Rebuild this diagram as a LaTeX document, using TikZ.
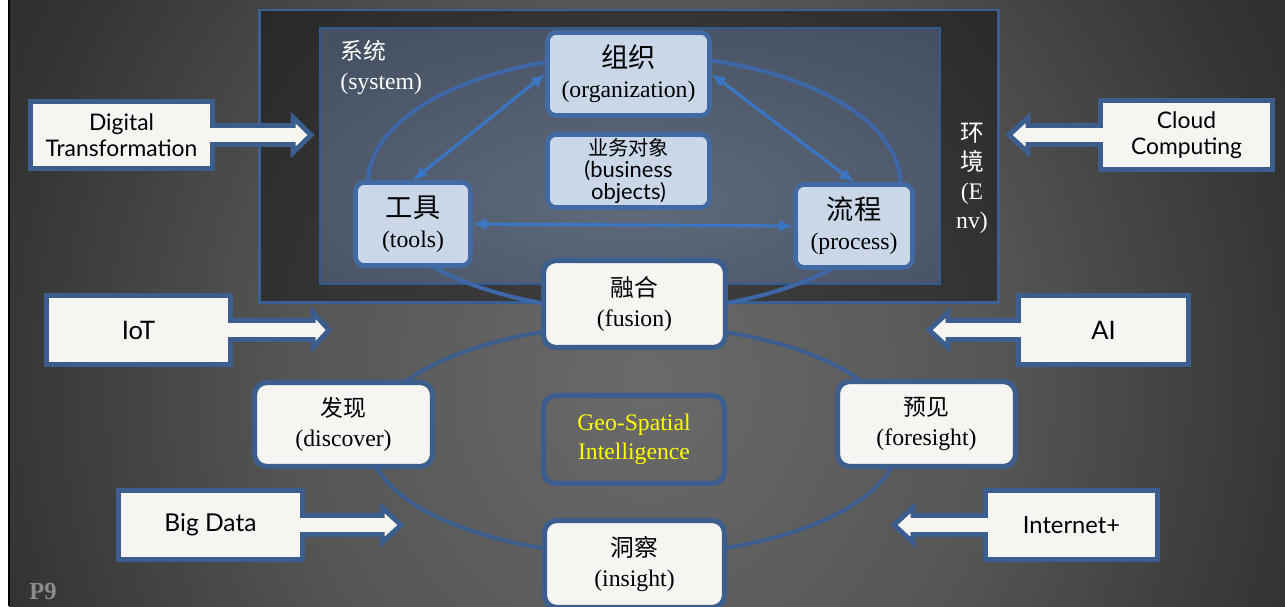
\documentclass[tikz,border=0pt]{standalone}
\usepackage{fontspec}
\setmainfont{Liberation Serif}
\setsansfont{Lato}
\newfontfamily\cjk{Noto Sans CJK SC}
\usetikzlibrary{calc,arrows.meta}
\newlength\pxu \setlength\pxu{0.02cm}
\definecolor{bgA}{HTML}{6A6A6A}
\definecolor{bgB}{HTML}{555555}
\definecolor{bgC}{HTML}{333333}
\definecolor{bgD}{HTML}{212121}
\definecolor{bgE}{HTML}{1B1B1B}
\definecolor{sysA}{HTML}{5F6B7B}
\definecolor{sysB}{HTML}{465264}
\definecolor{sysC}{HTML}{3D4859}
\definecolor{bfr}{HTML}{3B5E8E}
\definecolor{envfr}{HTML}{3A5F93}
\definecolor{sysfr}{HTML}{2F5A92}
\definecolor{lbfill}{HTML}{C9D7E8}
\definecolor{bcl}{HTML}{4169A3}
\definecolor{ellA}{HTML}{3D67A6}
\definecolor{ellB}{HTML}{3B5E8E}
\definecolor{iarrc}{HTML}{3A76C4}
\definecolor{wfill}{HTML}{F6F5F2}
\definecolor{pgray}{HTML}{8C8C8C}
\definecolor{geoy}{HTML}{FFFF00}
\pgfdeclareradialshading{bgrad}{\pgfpoint{0bp}{0bp}}{color(0bp)=(bgA); color(14bp)=(bgB); color(26bp)=(bgC); color(38bp)=(bgD); color(75bp)=(bgE)}
\pgfdeclareradialshading{sysrad}{\pgfpoint{0bp}{-10bp}}{color(0bp)=(sysA); color(35bp)=(sysB); color(55bp)=(sysC); color(75bp)=(sysC)}
\newcommand\barr[4]{%
  \begin{scope}[shift={(#1)}, xscale=#2]
    \fill[wfill] (0,-9.5) -- (#3,-9.5) -- (#3,-17.5) -- ({#3+#4},0) -- (#3,17.5) -- (#3,9.5) -- (0,9.5) -- cycle;
    \fill[wfill] (-6,-7) rectangle (1,7);
    \draw[bfr, line width=2.8pt, line join=miter] (-0.3,-9.5) -- (#3,-9.5) -- (#3,-17.5) -- ({#3+#4},0) -- (#3,17.5) -- (#3,9.5) -- (-0.3,9.5);
  \end{scope}}
\begin{document}
\begin{tikzpicture}[x=0.02cm,y=-0.02cm,
  lbox/.style={draw=bcl, line width=2.6pt, fill=lbfill, rounded corners=5pt, inner sep=0pt, align=center, text=black},
  wbox/.style={draw=bfr, line width=2.9pt, fill=wfill, rounded corners=7pt, inner sep=0pt, align=center, text=black},
  gbox/.style={draw=bfr, line width=2.9pt, rounded corners=7pt, inner sep=0pt, align=center, text=geoy},
  sbox/.style={draw=bfr, line width=2.9pt, fill=wfill, inner sep=0pt, align=center, text=black},
  iarr/.style={draw=iarrc, line width=1.8pt, {Latex[length=8pt,width=7pt]}-{Latex[length=8pt,width=7pt]}},
]
\useasboundingbox (0,0) rectangle (1285,606);
\clip (0,0) rectangle (1285,606);
\fill[white] (0,0) rectangle (1285,606);
\shade[shading=bgrad] (9,-320) rectangle (1285,1080);
\fill[black] (8,0) rectangle (10,606);

% environment and system frames
\draw[envfr, line width=1.7pt, fill=black, fill opacity=0.40] (259.5,10) rectangle (998.5,302);
\shade[shading=sysrad] (320,28) rectangle (940,284);
\draw[sysfr, line width=1.4pt] (320,28) rectangle (940,284);

% ellipses
\draw[ellA, line width=2.3pt] (634,183) ellipse [x radius=266, y radius=128];
\draw[ellB, line width=2.3pt] (634,440) ellipse [x radius=265, y radius=115];

% system nodes
\node[lbox, minimum width=162\pxu, minimum height=83\pxu] (org) at (628.5,74)
  {{\cjk\fontsize{15.5}{18}\selectfont 组织}\\[5pt]{\fontsize{13.5}{15}\selectfont (organization)}};
\node[lbox, minimum width=162\pxu, minimum height=73\pxu] (biz) at (628.5,171)
  {{\cjk\fontsize{11.5}{13}\selectfont 业务对象}\\[0.5pt]{\sffamily\fontsize{12.5}{13}\selectfont (business}\\[0.5pt]{\sffamily\fontsize{12.5}{13}\selectfont objects)}};
\node[lbox, minimum width=115\pxu, minimum height=83\pxu] (tools) at (413,224)
  {{\cjk\fontsize{15.5}{18}\selectfont 工具}\\[5pt]{\fontsize{13.5}{15}\selectfont (tools)}};
\node[lbox, minimum width=117\pxu, minimum height=83\pxu] (proc) at (854,226)
  {{\cjk\fontsize{15.5}{18}\selectfont 流程}\\[5pt]{\fontsize{13.5}{15}\selectfont (process)}};

\draw[iarr] (org.west) -- (tools.north);
\draw[iarr] (org.east) -- (proc.north);
\draw[iarr] (tools.east) -- (proc.west);

% labels for system / environment
\node[anchor=north west, align=left, text=white, inner sep=0pt] (sys) at (340,40)
  {{\cjk\fontsize{13}{15}\selectfont 系统}\\[5pt]{\fontsize{13.5}{15}\selectfont (system)}};
\node[align=center, text=white, inner sep=0pt, font=\fontsize{13.5}{16.5}\selectfont] (env) at (972,178)
  {{\cjk 环}\\{\cjk 境}\\(E\\nv)};

% cycle nodes
\node[wbox, minimum width=182\pxu, minimum height=87\pxu] (fus) at (634.5,304)
  {{\cjk\fontsize{13.5}{16}\selectfont 融合}\\[5pt]{\fontsize{13.5}{15}\selectfont (fusion)}};
\node[wbox, minimum width=178\pxu, minimum height=84\pxu] (disc) at (343.5,424.5)
  {{\cjk\fontsize{13}{16}\selectfont 发现}\\[5pt]{\fontsize{13.5}{15}\selectfont (discover)}};
\node[wbox, minimum width=178\pxu, minimum height=85\pxu] (fore) at (926.5,424)
  {{\cjk\fontsize{13}{16}\selectfont 预见}\\[5pt]{\fontsize{13.5}{15}\selectfont (foresight)}};
\node[gbox, minimum width=181\pxu, minimum height=88\pxu] (geo) at (634,439.5)
  {{\fontsize{13.5}{16}\selectfont Geo-Spatial}\\[3pt]{\fontsize{13.5}{16}\selectfont Intelligence}};
\node[wbox, minimum width=180\pxu, minimum height=87\pxu] (ins) at (634.5,564)
  {{\cjk\fontsize{13.5}{16}\selectfont 洞察}\\[5pt]{\fontsize{13.5}{15}\selectfont (insight)}};

% outside drivers
\node[sbox, minimum width=182\pxu, minimum height=67\pxu, font=\sffamily\fontsize{13}{15}\selectfont] (dt) at (121.5,135) {Digital\\Transformation};
\node[sbox, minimum width=184\pxu, minimum height=69\pxu, font=\sffamily\fontsize{14.5}{16}\selectfont] (iot) at (138.5,330) {IoT};
\node[sbox, minimum width=184\pxu, minimum height=69\pxu, font=\sffamily\fontsize{14}{16}\selectfont] (bd) at (210.5,525) {Big Data};
\node[sbox, minimum width=172\pxu, minimum height=69\pxu, font=\sffamily\fontsize{13}{15}\selectfont] (cc) at (1186.5,135) {Cloud\\Computing};
\node[sbox, minimum width=170\pxu, minimum height=69\pxu, font=\sffamily\fontsize{14.5}{16}\selectfont] (ai) at (1103.5,330) {AI};
\node[sbox, minimum width=172\pxu, minimum height=69\pxu, font=\sffamily\fontsize{13.5}{16}\selectfont] (inet) at (1071.5,525) {Internet+};

\barr{dt.east}{1}{78}{18}
\barr{iot.east}{1}{80}{16}
\barr{bd.east}{1}{77}{19}
\barr{cc.west}{-1}{70}{19}
\barr{ai.west}{-1}{68}{19}
\barr{inet.west}{-1}{70}{19}

\node[text=pgray, font=\bfseries\fontsize{14}{14}\selectfont, inner sep=0pt] (p9) at (43,591) {P9};
\end{tikzpicture}
\end{document}
